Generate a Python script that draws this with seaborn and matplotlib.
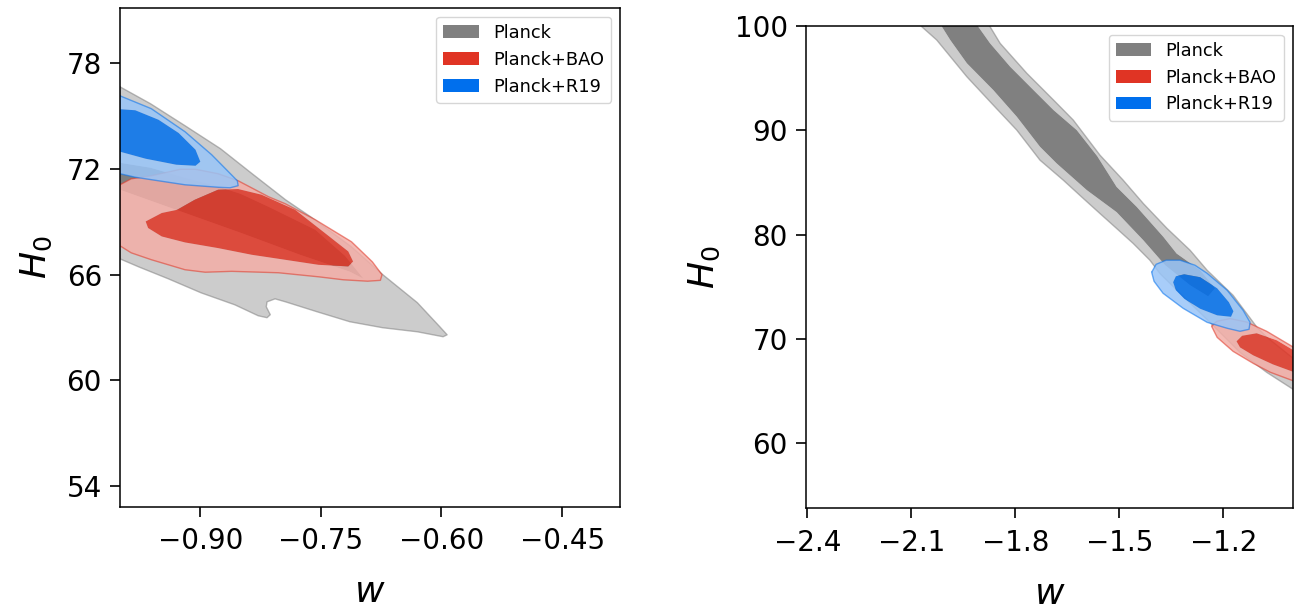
import numpy as np
import matplotlib
matplotlib.use("Agg")
import matplotlib.pyplot as plt
from matplotlib.path import Path
from matplotlib.patches import PathPatch, Patch
from matplotlib.colors import to_rgb
import seaborn as sns

# ---- dataset names / colours (getdist defaults) ----
labels = ["Planck", "Planck+BAO", "Planck+R19"]
colors = ["#808080", "#E03424", "#006FED"]

# ---- left panel (w > -1): 68% / 95% contour outlines ----
planck_l_outer_w = [-1.0, -0.962, -0.919, -0.875, -0.837, -0.794, -0.763, -0.712, -0.673, -0.630,
                    -0.602, -0.593, -0.598, -0.630, -0.673, -0.714, -0.755, -0.794, -0.807, -0.817,
                    -0.818, -0.813, -0.817, -0.828, -0.857, -0.899, -0.940, -0.977, -1.0]
planck_l_outer_h = [76.65, 75.69, 74.44, 73.14, 71.77, 70.24, 69.28, 67.57, 65.99, 64.40,
                    63.03, 62.58, 62.47, 62.75, 62.98, 63.32, 63.89, 64.45, 64.62, 64.45,
                    64.17, 63.72, 63.55, 63.66, 64.28, 64.96, 65.76, 66.44, 66.89]
planck_l_inner_w = [-1.0, -0.962, -0.919, -0.881, -0.850, -0.815, -0.757, -0.720, -0.697,
                    -0.714, -0.776, -0.850, -0.930, -1.0]
planck_l_inner_h = [72.34, 72.06, 71.49, 71.04, 70.58, 69.84, 68.54, 67.06, 65.76,
                    66.16, 67.12, 68.37, 69.67, 70.81]

bao_l_outer_w = [-1.0, -0.986, -0.961, -0.925, -0.906, -0.878, -0.853, -0.815, -0.794, -0.757,
                 -0.712, -0.686, -0.674, -0.676, -0.692, -0.722, -0.753, -0.803, -0.861, -0.894,
                 -0.919, -0.961, -0.986, -1.0]
bao_l_outer_h = [71.09, 71.43, 71.60, 71.97, 71.97, 71.72, 71.32, 70.41, 70.01, 69.11,
                 67.86, 66.72, 65.99, 65.67, 65.62, 65.70, 65.87, 66.10, 66.18, 66.13,
                 66.27, 66.84, 67.23, 67.63]
bao_l_inner_w = [-0.968, -0.948, -0.929, -0.907, -0.878, -0.853, -0.824, -0.782, -0.745, -0.716,
                 -0.710, -0.716, -0.753, -0.795, -0.836, -0.878, -0.919, -0.948, -0.965]
bao_l_inner_h = [69.01, 69.49, 69.67, 70.24, 70.81, 70.85, 70.53, 69.67, 68.35, 67.31,
                 66.74, 66.46, 66.55, 66.84, 67.12, 67.50, 67.82, 68.16, 68.64]

r19_l_outer_w = [-1.0, -0.961, -0.919, -0.886, -0.865, -0.854, -0.853, -0.863, -0.878, -0.919,
                 -0.961, -0.981, -1.0]
r19_l_outer_h = [76.14, 75.41, 74.10, 72.80, 71.83, 71.32, 71.04, 70.92, 70.95, 71.09,
                 71.38, 71.52, 71.72]
r19_l_inner_w = [-1.0, -0.981, -0.952, -0.927, -0.906, -0.900, -0.906, -0.930, -0.940, -0.968, -1.0]
r19_l_inner_h = [75.38, 75.32, 74.78, 74.03, 73.08, 72.40, 72.17, 72.23, 72.32, 72.57, 72.97]

# ---- right panel (w < -1) ----
planck_r_outer_w = [-1.908, -1.873, -1.844, -1.767, -1.690, -1.633, -1.556, -1.489, -1.431, -1.363,
                    -1.296, -1.247, -1.172, -1.103, -1.075, -1.003, -0.979, -0.979, -1.003, -1.075,
                    -1.152, -1.239, -1.325, -1.383, -1.412, -1.460, -1.508, -1.556, -1.604, -1.662,
                    -1.729, -1.796, -1.864, -1.940, -2.027, -2.070, -2.104]
planck_r_outer_h = [101.5, 99.90, 98.31, 95.44, 92.88, 90.96, 87.60, 85.20, 82.97, 80.60,
                    78.49, 76.58, 74.18, 71.11, 70.18, 68.26, 67.76, 64.69, 65.26, 66.80,
                    68.71, 71.59, 74.37, 76.26, 77.54, 79.14, 80.58, 82.01, 83.45, 85.21,
                    87.12, 90.00, 92.40, 95.11, 98.63, 99.90, 101.5]
planck_r_inner_w = [-2.023, -2.012, -1.988, -1.940, -1.864, -1.796, -1.729, -1.681, -1.594, -1.508,
                    -1.431, -1.368, -1.296, -1.244, -1.224, -1.267, -1.335, -1.373, -1.450, -1.508,
                    -1.564, -1.623, -1.690, -1.748, -1.815, -1.873, -1.907, -1.931]
planck_r_inner_h = [101.5, 99.90, 98.63, 96.40, 93.84, 91.28, 88.40, 86.81, 84.25, 82.14,
                    79.45, 77.06, 75.14, 74.08, 74.85, 76.58, 78.18, 79.77, 82.65, 84.56,
                    87.51, 90.00, 91.92, 93.84, 96.07, 98.31, 99.90, 101.5]

bao_r_outer_w = [-1.234, -1.219, -1.181, -1.133, -1.075, -1.002, -0.950, -0.950, -1.002, -1.065,
                 -1.114, -1.172, -1.218]
bao_r_outer_h = [71.21, 71.69, 71.95, 71.62, 70.73, 69.29, 68.24, 65.27, 66.03, 66.81,
                 67.66, 68.81, 70.15]
bao_r_inner_w = [-1.162, -1.146, -1.104, -1.046, -1.002, -0.950, -0.950, -1.002, -1.057, -1.114, -1.152]
bao_r_inner_h = [69.77, 70.30, 70.54, 69.87, 69.00, 67.95, 66.22, 66.89, 67.56, 68.43, 69.19]

r19_r_outer_w = [-1.407, -1.394, -1.365, -1.325, -1.282, -1.247, -1.189, -1.143, -1.123, -1.126,
                 -1.152, -1.189, -1.247, -1.316, -1.374, -1.400]
r19_r_outer_h = [76.39, 77.15, 77.54, 77.54, 77.06, 76.29, 74.66, 72.74, 71.59, 70.92,
                 70.73, 71.02, 71.59, 72.93, 74.37, 75.52]
r19_r_inner_w = [-1.345, -1.337, -1.313, -1.267, -1.218, -1.184, -1.171, -1.178, -1.218, -1.267,
                 -1.313, -1.337]
r19_r_inner_h = [75.43, 76.00, 76.19, 75.91, 74.85, 73.51, 72.65, 72.12, 72.26, 72.89,
                 73.84, 74.66]

left_xticks = [-0.90, -0.75, -0.60, -0.45]
left_yticks = [54, 60, 66, 72, 78]
right_xticks = [-2.4, -2.1, -1.8, -1.5, -1.2]
right_yticks = [60, 70, 80, 90, 100]

sns.set_style("ticks", {"axes.edgecolor": "black", "xtick.color": "black",
                        "ytick.color": "black", "text.color": "black",
                        "axes.labelcolor": "black"})
plt.rcParams["font.family"] = ["DejaVu Sans"]
plt.rcParams["mathtext.fontset"] = "dejavusans"


def signed_area(p):
    x, y = p[:, 0], p[:, 1]
    return 0.5 * np.sum(x * np.roll(y, -1) - np.roll(x, -1) * y)


def draw_contours(ax, outer_w, outer_h, inner_w, inner_h, color, alpha, z):
    base = np.array(to_rgb(color))
    pale = base * 0.4 + 0.6
    o = np.column_stack([outer_w, outer_h])
    i = np.column_stack([inner_w, inner_h])
    if signed_area(o) * signed_area(i) > 0:
        i = i[::-1]
    # 95% ring (outer minus inner) so the alpha is not applied twice
    verts = np.vstack([o, o[:1], i, i[:1]])
    codes = ([Path.MOVETO] + [Path.LINETO] * (len(o) - 1) + [Path.CLOSEPOLY] +
             [Path.MOVETO] + [Path.LINETO] * (len(i) - 1) + [Path.CLOSEPOLY])
    ax.add_patch(PathPatch(Path(verts, codes), facecolor=pale, edgecolor="none",
                           lw=0, alpha=alpha, zorder=z))
    ax.fill(inner_w, inner_h, facecolor=base, edgecolor="none", lw=0, alpha=alpha, zorder=z + 0.1)
    # outline of the 95% level
    sns.lineplot(x=np.append(outer_w, outer_w[0]), y=np.append(outer_h, outer_h[0]),
                 sort=False, estimator=None, color=base, alpha=0.55, lw=1.0,
                 ax=ax, zorder=z + 0.2, legend=False)


fig = plt.figure(figsize=(12.94, 6.09), dpi=100)
ax1 = fig.add_axes([0.0927, 0.1681, 0.3864, 0.8190])
ax2 = fig.add_axes([0.6229, 0.1654, 0.3761, 0.7924])

# left panel
draw_contours(ax1, planck_l_outer_w, planck_l_outer_h, planck_l_inner_w, planck_l_inner_h, colors[0], 1.0, 1)
draw_contours(ax1, bao_l_outer_w, bao_l_outer_h, bao_l_inner_w, bao_l_inner_h, colors[1], 0.85, 2)
draw_contours(ax1, r19_l_outer_w, r19_l_outer_h, r19_l_inner_w, r19_l_inner_h, colors[2], 0.85, 3)
ax1.set_xlim(-1.0, -0.378)
ax1.set_ylim(52.83, 81.13)
ax1.set_xticks(left_xticks)
ax1.set_yticks(left_yticks)
ax1.set_xticklabels([f"{t:.2f}".replace("-", "\u2212") for t in left_xticks])

# right panel
draw_contours(ax2, planck_r_outer_w, planck_r_outer_h, planck_r_inner_w, planck_r_inner_h, colors[0], 1.0, 1)
draw_contours(ax2, bao_r_outer_w, bao_r_outer_h, bao_r_inner_w, bao_r_inner_h, colors[1], 0.85, 2)
draw_contours(ax2, r19_r_outer_w, r19_r_outer_h, r19_r_inner_w, r19_r_inner_h, colors[2], 0.85, 3)
ax2.set_xlim(-2.404, -1.0)
ax2.set_ylim(53.78, 100)
ax2.set_xticks(right_xticks)
ax2.set_yticks(right_yticks)

handles = [Patch(facecolor=c, edgecolor="none", label=l) for c, l in zip(colors, labels)]
for ax in (ax1, ax2):
    ax.set_xlabel("$w$", fontsize=26, labelpad=14)
    ax.set_ylabel("$H_0$", fontsize=26, labelpad=9)
    ax.tick_params(labelsize=20, length=7, width=1.2, direction="out")
    ax.tick_params(axis="x", pad=8)
    ax.tick_params(axis="y", pad=6)
    for s in ax.spines.values():
        s.set_linewidth(1.1)
        s.set_zorder(10)
    ax.legend(handles=handles, loc="upper right", fontsize=12.8)

fig.savefig("out.png", dpi=100)
